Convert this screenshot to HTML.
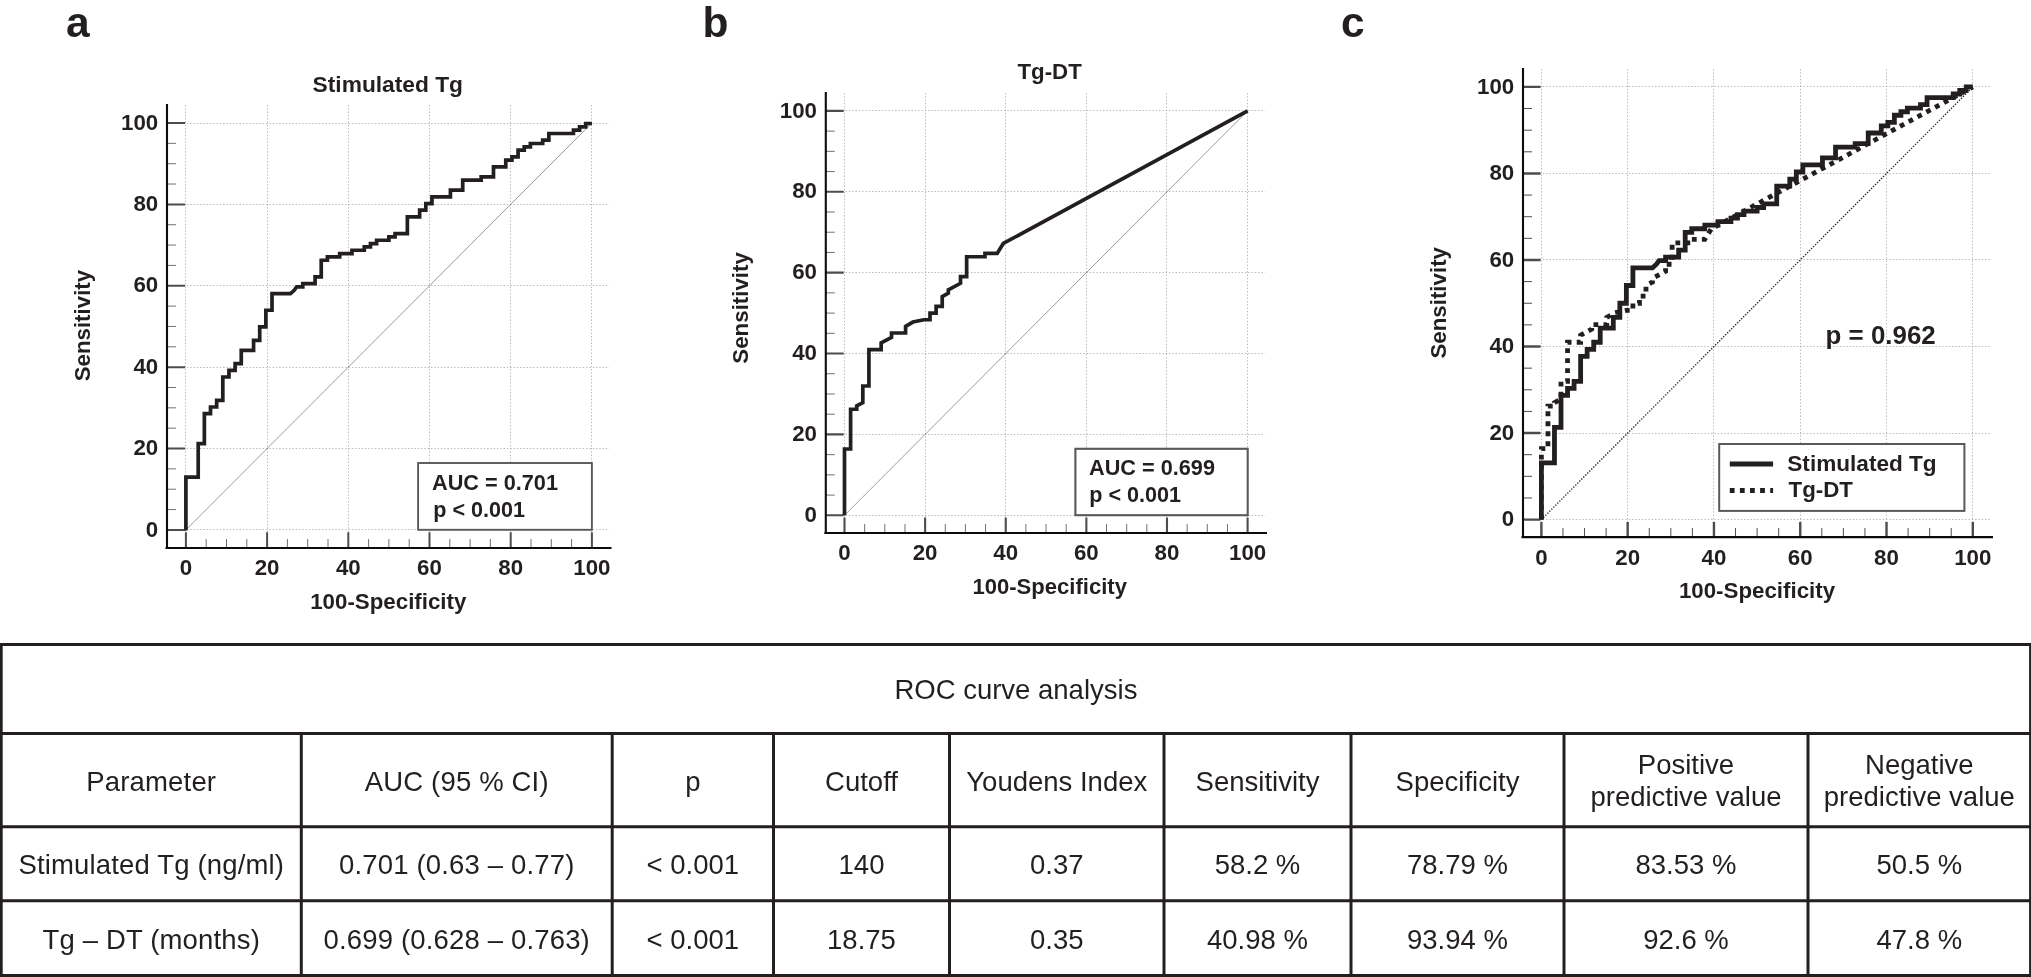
<!DOCTYPE html>
<html><head><meta charset="utf-8"><title>ROC curve analysis</title>
<style>
html,body{margin:0;padding:0;background:#fff;}
body{width:2031px;height:977px;overflow:hidden;position:relative;font-family:"Liberation Sans",sans-serif;}
svg{position:absolute;left:0;top:0;display:block;will-change:transform}
svg text{font-family:"Liberation Sans",sans-serif;fill:#231f20;}
.b text{font-weight:bold}
</style></head><body>
<svg width="2031" height="977" viewBox="0 0 2031 977">
<rect width="2031" height="977" fill="#fff"/>
<g class="b">
<text x="66.0" y="36.8" font-size="42.5">a</text>
<text x="702.5" y="36.7" font-size="42.5">b</text>
<text x="1340.9" y="36.8" font-size="42.5">c</text>
<!-- chart a -->
<path d="M185.5 105V548M167 529.5H609.5M267.5 105V548M167 448.5H609.5M348.5 105V548M167 367.5H609.5M429.5 105V548M167 285.5H609.5M510.5 105V548M167 204.5H609.5M591.5 105V548M167 123.5H609.5" fill="none" stroke="#a9abae" stroke-width="0.85" stroke-dasharray="1.4 1.9"/>
<line x1="185.9" y1="529.9" x2="591.9" y2="123" stroke="#58595b" stroke-width="0.6"/>
<path d="M206.2 548v-9M167 509.55h9M226.5 548v-9M167 489.21h9M246.8 548v-9M167 468.87h9M287.4 548v-9M167 428.17h9M307.7 548v-9M167 407.83h9M328 548v-9M167 387.49h9M368.6 548v-9M167 346.79h9M388.9 548v-9M167 326.45h9M409.2 548v-9M167 306.11h9M449.8 548v-9M167 265.41h9M470.1 548v-9M167 245.07h9M490.4 548v-9M167 224.72h9M531 548v-9M167 184.03h9M551.3 548v-9M167 163.69h9M571.6 548v-9M167 143.34h9" fill="none" stroke="#4d4d4f" stroke-width="0.8"/>
<path d="M185.9 548V532.2M167 529.9H185.1M267.1 548V532.2M167 448.52H185.1M348.3 548V532.2M167 367.14H185.1M429.5 548V532.2M167 285.76H185.1M510.7 548V532.2M167 204.38H185.1M591.9 548V532.2M167 123H185.1" fill="none" stroke="#4d4d4f" stroke-width="2.0"/>
<rect x="418.1" y="463" width="173.8" height="66.8" fill="#fff" stroke="#58595b" stroke-width="1.9"/>
<polyline points="185.9,530.4 185.9,477.04 198.2,477.04 198.2,443.68 204.35,443.68 204.35,413.67 210.51,413.67 210.51,407 216.66,407 216.66,400.33 222.81,400.33 222.81,376.98 228.96,376.98 228.96,370.31 235.11,370.31 235.11,363.64 241.26,363.64 241.26,350.3 253.57,350.3 253.57,340.29 259.72,340.29 259.72,326.95 265.87,326.95 265.87,310.27 272.02,310.27 272.02,293.6 290.48,293.6 294.17,290.26 296.63,286.93 302.78,286.93 302.78,283.59 315.08,283.59 315.08,276.92 321.23,276.92 321.23,260.25 327.38,260.25 327.38,256.91 339.69,256.91 339.69,253.57 351.99,253.57 351.99,250.24 364.29,250.24 364.29,246.9 370.45,246.9 370.45,243.57 376.6,243.57 376.6,240.23 388.9,240.23 388.9,236.9 395.05,236.9 395.05,233.56 407.35,233.56 407.35,216.89 419.66,216.89 419.66,210.22 425.81,210.22 425.81,203.55 431.96,203.55 431.96,196.88 450.42,196.88 450.42,190.2 462.72,190.2 462.72,180.2 481.17,180.2 481.17,176.86 493.48,176.86 493.48,166.86 505.78,166.86 505.78,160.19 511.93,160.19 511.93,156.85 518.08,156.85 518.08,150.18 524.23,150.18 524.23,146.85 530.38,146.85 530.38,143.51 542.69,143.51 542.69,140.18 548.84,140.18 548.84,133.51 573.45,133.51 573.45,130.17 579.6,130.17 579.6,126.84 585.75,126.84 585.75,123.5 591.9,123.5" fill="none" stroke="#231f20" stroke-width="3.7" stroke-linejoin="miter"/>
<path d="M167 104V549M165.5 548H611.5" fill="none" stroke="#0d0b0c" stroke-width="2.1"/>
<text x="158.2" y="536.5" text-anchor="end" font-size="22.3">0</text>
<text x="185.9" y="575.2" text-anchor="middle" font-size="22.3">0</text>
<text x="158.2" y="455.12" text-anchor="end" font-size="22.3">20</text>
<text x="267.1" y="575.2" text-anchor="middle" font-size="22.3">20</text>
<text x="158.2" y="373.74" text-anchor="end" font-size="22.3">40</text>
<text x="348.3" y="575.2" text-anchor="middle" font-size="22.3">40</text>
<text x="158.2" y="292.36" text-anchor="end" font-size="22.3">60</text>
<text x="429.5" y="575.2" text-anchor="middle" font-size="22.3">60</text>
<text x="158.2" y="210.98" text-anchor="end" font-size="22.3">80</text>
<text x="510.7" y="575.2" text-anchor="middle" font-size="22.3">80</text>
<text x="158.2" y="129.6" text-anchor="end" font-size="22.3">100</text>
<text x="591.9" y="575.2" text-anchor="middle" font-size="22.3">100</text>
<text x="388.3" y="608.5" text-anchor="middle" font-size="22.3">100-Specificity</text>
<text transform="translate(90.2 325.6) rotate(-90)" text-anchor="middle" font-size="22.3">Sensitivity</text>
<text x="387.8" y="91.5" text-anchor="middle" font-size="22.75">Stimulated Tg</text>
<text x="432" y="489.9" font-size="21.7">AUC = 0.701</text>
<text x="433.2" y="516.5" font-size="21.6">p &lt; 0.001</text>
<!-- chart b -->
<path d="M844.5 93V533M825.8 515.5H1265M925.5 93V533M825.8 434.5H1265M1005.5 93V533M825.8 353.5H1265M1086.5 93V533M825.8 272.5H1265M1166.5 93V533M825.8 191.5H1265M1247.5 93V533M825.8 110.5H1265" fill="none" stroke="#a9abae" stroke-width="0.85" stroke-dasharray="1.4 1.9"/>
<line x1="844.5" y1="515.3" x2="1247.6" y2="110.9" stroke="#58595b" stroke-width="0.6"/>
<path d="M864.65 533v-9M825.8 495.08h9M884.81 533v-9M825.8 474.86h9M904.97 533v-9M825.8 454.64h9M945.27 533v-9M825.8 414.2h9M965.43 533v-9M825.8 393.98h9M985.58 533v-9M825.8 373.76h9M1025.89 533v-9M825.8 333.32h9M1046.05 533v-9M825.8 313.1h9M1066.2 533v-9M825.8 292.88h9M1106.51 533v-9M825.8 252.44h9M1126.67 533v-9M825.8 232.22h9M1146.82 533v-9M825.8 212h9M1187.13 533v-9M825.8 171.56h9M1207.29 533v-9M825.8 151.34h9M1227.44 533v-9M825.8 131.12h9" fill="none" stroke="#4d4d4f" stroke-width="0.8"/>
<path d="M844.5 533V517.6M825.8 515.3H843.7M925.12 533V517.6M825.8 434.42H843.7M1005.74 533V517.6M825.8 353.54H843.7M1086.36 533V517.6M825.8 272.66H843.7M1166.98 533V517.6M825.8 191.78H843.7M1247.6 533V517.6M825.8 110.9H843.7" fill="none" stroke="#4d4d4f" stroke-width="2.1"/>
<rect x="1075.4" y="448.8" width="172.3" height="66.4" fill="#fff" stroke="#58595b" stroke-width="2.1"/>
<polyline points="844.5,515.3 844.5,449 850.61,449 850.61,409.23 856.72,409.23 856.72,405.91 862.82,402.6 862.82,386.02 868.93,386.02 868.93,349.56 881.15,349.56 881.15,342.93 891.53,337.3 891.53,332.99 905.58,332.99 905.58,326.36 912.9,322.05 923.9,319.73 930.01,319.73 930.01,313.1 936.11,313.1 936.11,306.47 942.22,306.47 942.22,296.53 948.33,293.21 948.33,289.9 960.54,283.27 960.54,276.64 966.65,276.64 966.65,256.75 984.97,256.75 984.97,253.43 997.19,253.43 1003.3,243.49 1247.6,110.9" fill="none" stroke="#231f20" stroke-width="3.7" stroke-linejoin="miter"/>
<path d="M825.8 92V534M824.3 533H1267" fill="none" stroke="#0d0b0c" stroke-width="2.1"/>
<text x="817" y="521.9" text-anchor="end" font-size="22.3">0</text>
<text x="844.5" y="560.2" text-anchor="middle" font-size="22.3">0</text>
<text x="817" y="441.02" text-anchor="end" font-size="22.3">20</text>
<text x="925.12" y="560.2" text-anchor="middle" font-size="22.3">20</text>
<text x="817" y="360.14" text-anchor="end" font-size="22.3">40</text>
<text x="1005.74" y="560.2" text-anchor="middle" font-size="22.3">40</text>
<text x="817" y="279.26" text-anchor="end" font-size="22.3">60</text>
<text x="1086.36" y="560.2" text-anchor="middle" font-size="22.3">60</text>
<text x="817" y="198.38" text-anchor="end" font-size="22.3">80</text>
<text x="1166.98" y="560.2" text-anchor="middle" font-size="22.3">80</text>
<text x="817" y="117.5" text-anchor="end" font-size="22.3">100</text>
<text x="1247.6" y="560.2" text-anchor="middle" font-size="22.3">100</text>
<text x="1049.7" y="593.7" text-anchor="middle" font-size="22.05">100-Specificity</text>
<text transform="translate(748.4 307.9) rotate(-90)" text-anchor="middle" font-size="22.3">Sensitivity</text>
<text x="1049.6" y="78.8" text-anchor="middle" font-size="22.3">Tg-DT</text>
<text x="1089" y="475.2" font-size="21.7">AUC = 0.699</text>
<text x="1089.2" y="502" font-size="21.6">p &lt; 0.001</text>
<!-- chart c -->
<path d="M1541.5 69V537.1M1523 519.5H1991M1627.5 69V537.1M1523 433.5H1991M1713.5 69V537.1M1523 346.5H1991M1800.5 69V537.1M1523 259.5H1991M1886.5 69V537.1M1523 173.5H1991M1972.5 69V537.1M1523 86.5H1991" fill="none" stroke="#a9abae" stroke-width="0.85" stroke-dasharray="1.4 1.9"/>
<line x1="1541.4" y1="519.6" x2="1972.8" y2="86.9" stroke="#231f20" stroke-width="1.35" stroke-dasharray="1.3 1.53"/>
<path d="M1562.97 537.1v-9M1523 497.97h9M1584.54 537.1v-9M1523 476.33h9M1606.11 537.1v-9M1523 454.69h9M1649.25 537.1v-9M1523 411.43h9M1670.82 537.1v-9M1523 389.79h9M1692.39 537.1v-9M1523 368.15h9M1735.53 537.1v-9M1523 324.88h9M1757.1 537.1v-9M1523 303.25h9M1778.67 537.1v-9M1523 281.62h9M1821.81 537.1v-9M1523 238.34h9M1843.38 537.1v-9M1523 216.71h9M1864.95 537.1v-9M1523 195.07h9M1908.09 537.1v-9M1523 151.8h9M1929.66 537.1v-9M1523 130.17h9M1951.23 537.1v-9M1523 108.53h9" fill="none" stroke="#4d4d4f" stroke-width="1.0"/>
<path d="M1541.4 537.1V521.9M1523 519.6H1540.6M1627.68 537.1V521.9M1523 433.06H1540.6M1713.96 537.1V521.9M1523 346.52H1540.6M1800.24 537.1V521.9M1523 259.98H1540.6M1886.52 537.1V521.9M1523 173.44H1540.6M1972.8 537.1V521.9M1523 86.9H1540.6" fill="none" stroke="#4d4d4f" stroke-width="2.4"/>
<rect x="1719.2" y="444" width="245.2" height="66.9" fill="#fff" stroke="#58595b" stroke-width="2.0"/>
<polyline points="1541.4,519.6 1541.4,448.67 1547.94,448.67 1547.94,406.1 1554.47,406.1 1554.47,402.56 1561.01,399.01 1561.01,381.28 1567.55,381.28 1567.55,342.26 1580.62,342.26 1580.62,335.17 1591.73,329.14 1591.73,324.53 1606.76,324.53 1606.76,317.44 1614.61,312.83 1626.37,310.34 1632.91,310.34 1632.91,303.25 1639.45,303.25 1639.45,296.16 1645.98,296.16 1645.98,285.52 1652.52,281.97 1652.52,278.42 1665.59,271.33 1665.59,264.24 1672.13,264.24 1672.13,242.96 1691.74,242.96 1691.74,239.41 1704.81,239.41 1711.35,228.77 1972.8,86.9" fill="none" stroke="#231f20" stroke-width="4.8" stroke-dasharray="4.8 5.2"/>
<polyline points="1541.4,519.6 1541.4,462.85 1554.47,462.85 1554.47,427.39 1561.01,427.39 1561.01,395.46 1567.55,395.46 1567.55,388.37 1574.08,388.37 1574.08,381.28 1580.62,381.28 1580.62,356.45 1587.15,356.45 1587.15,349.36 1593.69,349.36 1593.69,342.26 1600.23,342.26 1600.23,328.08 1613.3,328.08 1613.3,317.44 1619.84,317.44 1619.84,303.25 1626.37,303.25 1626.37,285.52 1632.91,285.52 1632.91,267.78 1652.52,267.78 1656.44,264.24 1659.05,260.69 1665.59,260.69 1665.59,257.14 1678.66,257.14 1678.66,250.05 1685.2,250.05 1685.2,232.32 1691.74,232.32 1691.74,228.77 1704.81,228.77 1704.81,225.22 1717.88,225.22 1717.88,221.68 1730.95,221.68 1730.95,218.13 1737.49,218.13 1737.49,214.58 1744.03,214.58 1744.03,211.04 1757.1,211.04 1757.1,207.49 1763.64,207.49 1763.64,203.94 1776.71,203.94 1776.71,186.21 1789.78,186.21 1789.78,179.11 1796.32,179.11 1796.32,172.02 1802.85,172.02 1802.85,164.93 1822.46,164.93 1822.46,157.83 1835.54,157.83 1835.54,147.19 1855.15,147.19 1855.15,143.65 1868.22,143.65 1868.22,133.01 1881.29,133.01 1881.29,125.91 1887.83,125.91 1887.83,122.37 1894.36,122.37 1894.36,115.27 1900.9,115.27 1900.9,111.73 1907.44,111.73 1907.44,108.18 1920.51,108.18 1920.51,104.63 1927.05,104.63 1927.05,97.54 1953.19,97.54 1953.19,93.99 1959.73,93.99 1959.73,90.45 1966.26,90.45 1966.26,86.9 1972.8,86.9" fill="none" stroke="#231f20" stroke-width="4.8" stroke-linejoin="miter"/>
<path d="M1523 68V538.1M1521.5 537.1H1993" fill="none" stroke="#0d0b0c" stroke-width="2.1"/>
<text x="1514.2" y="526.2" text-anchor="end" font-size="22.3">0</text>
<text x="1541.4" y="564.7" text-anchor="middle" font-size="22.3">0</text>
<text x="1514.2" y="439.66" text-anchor="end" font-size="22.3">20</text>
<text x="1627.68" y="564.7" text-anchor="middle" font-size="22.3">20</text>
<text x="1514.2" y="353.12" text-anchor="end" font-size="22.3">40</text>
<text x="1713.96" y="564.7" text-anchor="middle" font-size="22.3">40</text>
<text x="1514.2" y="266.58" text-anchor="end" font-size="22.3">60</text>
<text x="1800.24" y="564.7" text-anchor="middle" font-size="22.3">60</text>
<text x="1514.2" y="180.04" text-anchor="end" font-size="22.3">80</text>
<text x="1886.52" y="564.7" text-anchor="middle" font-size="22.3">80</text>
<text x="1514.2" y="93.5" text-anchor="end" font-size="22.3">100</text>
<text x="1972.8" y="564.7" text-anchor="middle" font-size="22.3">100</text>
<text x="1757" y="598.3" text-anchor="middle" font-size="22.3">100-Specificity</text>
<text transform="translate(1446.4 302.8) rotate(-90)" text-anchor="middle" font-size="22.3">Sensitivity</text>
<text x="1825.6" y="344.4" font-size="25.9">p = 0.962</text>
<text x="1787.3" y="470.6" font-size="22.6">Stimulated Tg</text>
<text x="1788.6" y="497.3" font-size="22.3">Tg-DT</text>
<line x1="1729.8" y1="463.9" x2="1773.1" y2="463.9" stroke="#231f20" stroke-width="5"/>
<line x1="1729.8" y1="490.5" x2="1773.1" y2="490.5" stroke="#231f20" stroke-width="4.8" stroke-dasharray="4.8 5.3"/>
</g>
<!-- table -->
<g>
<path d="M0 644.5H2031M0 733.4H2031M0 826.8H2031M0 900.8H2031M0 975.6H2031M1.2 644.5V977M2030.6 644.5V977M301.3 733.4V977M612.2 733.4V977M773.5 733.4V977M949.5 733.4V977M1164 733.4V977M1351 733.4V977M1564 733.4V977M1808 733.4V977" fill="none" stroke="#231f20" stroke-width="3"/>
<text x="1015.9" y="698.6" text-anchor="middle" font-size="27.5">ROC curve analysis</text>
<text x="151.25" y="791.3" text-anchor="middle" font-size="27.5" letter-spacing="0.16">Parameter</text>
<text x="456.75" y="791.3" text-anchor="middle" font-size="27.5" letter-spacing="0.16">AUC (95 % CI)</text>
<text x="692.85" y="791.3" text-anchor="middle" font-size="27.5">p</text>
<text x="861.5" y="791.3" text-anchor="middle" font-size="27.5">Cutoff</text>
<text x="1056.75" y="791.3" text-anchor="middle" font-size="27.5">Youdens Index</text>
<text x="1257.5" y="791.3" text-anchor="middle" font-size="27.5">Sensitivity</text>
<text x="1457.5" y="791.3" text-anchor="middle" font-size="27.5">Specificity</text>
<text x="1686" y="773.7" text-anchor="middle" font-size="27.5">Positive</text>
<text x="1686" y="806.4" text-anchor="middle" font-size="27.5">predictive value</text>
<text x="1919.3" y="773.7" text-anchor="middle" font-size="27.5">Negative</text>
<text x="1919.3" y="806.4" text-anchor="middle" font-size="27.5">predictive value</text>
<text x="151.25" y="873.7" text-anchor="middle" font-size="27.5" letter-spacing="0.16">Stimulated Tg (ng/ml)</text>
<text x="456.75" y="873.7" text-anchor="middle" font-size="27.5" letter-spacing="0.16">0.701 (0.63 – 0.77)</text>
<text x="692.85" y="873.7" text-anchor="middle" font-size="27.5">&lt; 0.001</text>
<text x="861.5" y="873.7" text-anchor="middle" font-size="27.5">140</text>
<text x="1056.75" y="873.7" text-anchor="middle" font-size="27.5">0.37</text>
<text x="1257.5" y="873.7" text-anchor="middle" font-size="27.5">58.2 %</text>
<text x="1457.5" y="873.7" text-anchor="middle" font-size="27.5">78.79 %</text>
<text x="1686" y="873.7" text-anchor="middle" font-size="27.5">83.53 %</text>
<text x="1919.3" y="873.7" text-anchor="middle" font-size="27.5">50.5 %</text>
<text x="151.25" y="948.5" text-anchor="middle" font-size="27.5" letter-spacing="0.16">Tg – DT (months)</text>
<text x="456.75" y="948.5" text-anchor="middle" font-size="27.5" letter-spacing="0.16">0.699 (0.628 – 0.763)</text>
<text x="692.85" y="948.5" text-anchor="middle" font-size="27.5">&lt; 0.001</text>
<text x="861.5" y="948.5" text-anchor="middle" font-size="27.5">18.75</text>
<text x="1056.75" y="948.5" text-anchor="middle" font-size="27.5">0.35</text>
<text x="1257.5" y="948.5" text-anchor="middle" font-size="27.5">40.98 %</text>
<text x="1457.5" y="948.5" text-anchor="middle" font-size="27.5">93.94 %</text>
<text x="1686" y="948.5" text-anchor="middle" font-size="27.5">92.6 %</text>
<text x="1919.3" y="948.5" text-anchor="middle" font-size="27.5">47.8 %</text>
</g>
</svg>
</body></html>
